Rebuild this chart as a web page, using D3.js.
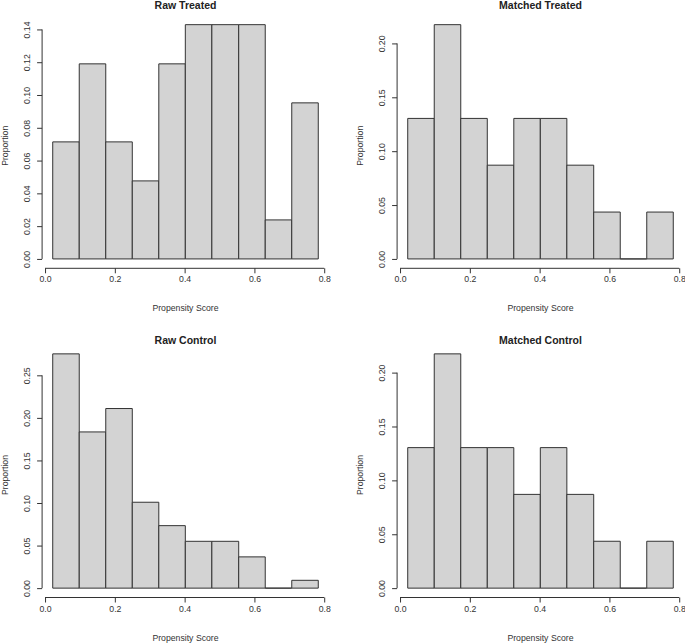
<!DOCTYPE html>
<html>
<head>
<meta charset="utf-8">
<script src="https://cdn.jsdelivr.net/npm/d3@7"></script>
<style>
  body { margin: 0; background: #fff; }
  svg text { font-family: "Liberation Sans", Arial, sans-serif; fill: #333; }
</style>
</head>
<body>
<div id="chart"></div>
<script>
// Bin edges shared by all four histograms
const binEdges = [0.022, 0.098, 0.174, 0.250, 0.326, 0.402, 0.478, 0.555, 0.631, 0.707, 0.783];

// Proportion in each bin
const rawTreated = [0.0714, 0.1190, 0.0714, 0.0476, 0.1190, 0.1429, 0.1429, 0.1429, 0.0238, 0.0952];
const matchedTreated = [0.1304, 0.2174, 0.1304, 0.0870, 0.1304, 0.1304, 0.0870, 0.0435, 0, 0.0435];
const rawControl = [0.2752, 0.1835, 0.2110, 0.1009, 0.0734, 0.0550, 0.0550, 0.0367, 0, 0.0092];
const matchedControl = [0.1304, 0.2174, 0.1304, 0.1304, 0.0870, 0.1304, 0.0870, 0.0435, 0, 0.0435];

const titles = ["Raw Treated", "Matched Treated", "Raw Control", "Matched Control"];
const xTicks = [0, 0.2, 0.4, 0.6, 0.8];
const yTicksList = [
    [0, 0.02, 0.04, 0.06, 0.08, 0.10, 0.12, 0.14],
    [0, 0.05, 0.10, 0.15, 0.20],
    [0, 0.05, 0.10, 0.15, 0.20, 0.25],
    [0, 0.05, 0.10, 0.15, 0.20]
];
const xLabel = "Propensity Score";
const yLabel = "Proportion";

const seriesList = [rawTreated, matchedTreated, rawControl, matchedControl];

const width = 685, height = 643;

// plot regions (R-style 2x2 layout)
const plotLeft = [42.1, 397.1];
const plotTop = [15.3, 344.5];
const plotW = 286.8, plotH = 253;
const titleY = [9, 344];

const svg = d3.select("#chart").append("svg")
    .attr("width", width)
    .attr("height", height);

seriesList.forEach((values, i) => {
    let col = i % 2, row = Math.floor(i / 2);
    let x0 = plotLeft[col], y0 = plotTop[row];
    let yTicks = yTicksList[i];

    // R pads axis ranges by 4%
    let lo = binEdges[0], hi = binEdges[binEdges.length - 1];
    let pad = (hi - lo) * 0.04;
    let xScale = d3.scaleLinear()
        .domain([lo - pad, hi + pad])
        .range([x0, x0 + plotW]);

    let ymax = d3.max(values);
    let yScale = d3.scaleLinear()
        .domain([-ymax * 0.04, ymax * 1.04])
        .range([y0 + plotH, y0]);

    let g = svg.append("g");

    // bars (drawn as paths so empty bins still show a baseline)
    g.selectAll(".bar")
        .data(values)
        .enter()
        .append("path")
        .attr("class", "bar")
        .attr("d", (d, j) => {
            let a = xScale(binEdges[j]), b = xScale(binEdges[j + 1]);
            let base = yScale(0), top = yScale(d);
            return `M${a},${base}V${top}H${b}V${base}Z`;
        })
        .style("fill", "#d3d3d3")
        .style("stroke", "#333")
        .style("stroke-width", 1);

    // x axis
    let xAxisY = y0 + plotH;
    let xAxis = d3.axisBottom(xScale)
        .tickValues(xTicks)
        .tickFormat(d3.format(".1f"))
        .tickSize(5)
        .tickSizeOuter(0);

    let gx = g.append("g")
        .attr("transform", `translate(0, ${xAxisY})`)
        .call(xAxis);
    gx.select(".domain")
        .attr("d", `M${xScale(xTicks[0])},0H${xScale(xTicks[xTicks.length - 1])}`);
    gx.selectAll("line, .domain").attr("stroke", "#333");
    gx.selectAll("text")
        .attr("y", 14)
        .attr("dy", 0)
        .style("font-size", "8.7px")
        .style("fill", "#333");

    // y axis
    let yAxis = d3.axisLeft(yScale)
        .tickValues(yTicks)
        .tickFormat(d3.format(".2f"))
        .tickSize(5)
        .tickSizeOuter(0);

    let gy = g.append("g")
        .attr("transform", `translate(${x0}, 0)`)
        .call(yAxis);
    gy.select(".domain")
        .attr("d", `M0,${yScale(yTicks[0])}V${yScale(yTicks[yTicks.length - 1])}`);
    gy.selectAll("line, .domain").attr("stroke", "#333");
    gy.selectAll("text")
        .attr("x", 0)
        .attr("dy", 0)
        .attr("transform", "translate(-12.5, 0) rotate(-90)")
        .style("text-anchor", "middle")
        .style("font-size", "8.7px")
        .style("fill", "#333");

    // titles and labels
    g.append("text")
        .attr("x", x0 + plotW / 2)
        .attr("y", titleY[row])
        .style("text-anchor", "middle")
        .style("font-weight", "bold")
        .style("font-size", "10.5px")
        .style("fill", "#222")
        .text(titles[i]);

    g.append("text")
        .attr("x", x0 + plotW / 2)
        .attr("y", xAxisY + 43)
        .style("text-anchor", "middle")
        .style("font-size", "8.7px")
        .text(xLabel);

    g.append("text")
        .attr("transform", `translate(${x0 - 34}, ${y0 + plotH / 2 + 4}) rotate(-90)`)
        .style("text-anchor", "middle")
        .style("font-size", "8.7px")
        .text(yLabel);
});
</script>
</body>
</html>
